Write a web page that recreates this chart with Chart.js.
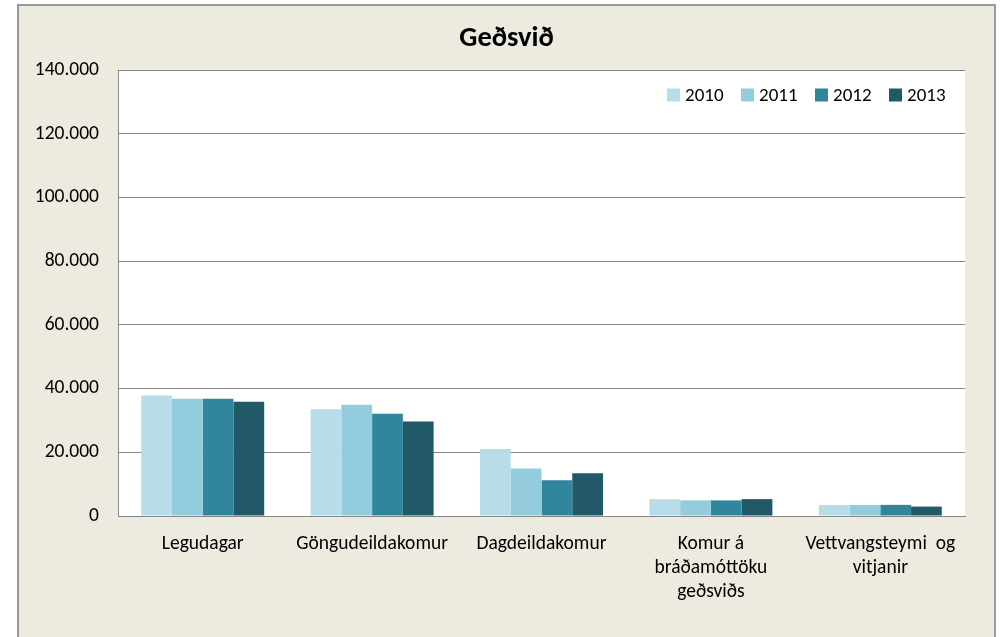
<!DOCTYPE html>
<html>
<head>
<meta charset="utf-8">
<script src="https://cdn.jsdelivr.net/npm/chart.js@4/dist/chart.umd.min.js"></script>
<style>
html,body{margin:0;padding:0;background:#ffffff;}
#wrap{position:absolute;left:0;top:0;width:1003px;height:637px;}
</style>
</head>
<body>
<div id="wrap"><canvas id="c" width="1003" height="637"></canvas></div>
<script>
const chartTitle = "Geðsvið";
const categories = ["Legudagar", "Göngudeildakomur", "Dagdeildakomur", ["Komur á", "bráðamóttöku", "geðsviðs"], ["Vettvangsteymi  og", "vitjanir"]];
const seriesNames = ["2010", "2011", "2012", "2013"];
const s2010 = [37800, 33500, 21000, 5300, 3450];
const s2011 = [36800, 34900, 14900, 4900, 3450];
const s2012 = [36800, 32100, 11200, 4900, 3500];
const s2013 = [35900, 29700, 13400, 5300, 2950];
const seriesColors = ["#B7DDE8", "#93CDDD", "#31859C", "#215968"];
const yMin = 0, yMax = 140000, yStep = 20000;

const FONT = "Carlito, Calibri, Lato, 'Open Sans', sans-serif";

function fmt(v){
  return String(Math.round(v)).replace(/\B(?=(\d{3})+(?!\d))/g, ".");
}

const framePlugin = {
  id: 'frame',
  beforeDraw(chart){
    const ctx = chart.ctx;
    ctx.save();
    ctx.fillStyle = "#EDEAE0";
    ctx.fillRect(18, 5, 977, 640);
    ctx.strokeStyle = "#9A9A9A";
    ctx.lineWidth = 2;
    ctx.strokeRect(18, 5, 977, 640);
    const a = chart.chartArea;
    ctx.fillStyle = "#FFFFFF";
    ctx.fillRect(a.left, a.top, a.right - a.left, a.bottom - a.top);
    ctx.restore();
  }
};

const titlePlugin = {
  id: 'frameTitle',
  afterDraw(chart){
    const ctx = chart.ctx;
    ctx.save();
    ctx.font = "bold 28.5px " + FONT;
    ctx.fillStyle = "#000000";
    ctx.textAlign = "center";
    ctx.textBaseline = "middle";
    ctx.fillText(chartTitle, (18 + 995) / 2, chart.chartArea.top - 31);
    ctx.restore();
  }
};

const legendPlugin = {
  id: 'insideLegend',
  afterDraw(chart){
    const ctx = chart.ctx;
    const a = chart.chartArea;
    ctx.save();
    ctx.font = "19px " + FONT;
    ctx.textBaseline = "middle";
    ctx.textAlign = "left";
    const y = a.top + 25;
    let x = a.right - 298;
    chart.data.datasets.forEach(ds => {
      ctx.fillStyle = ds.backgroundColor;
      ctx.fillRect(x, y - 6.5, 13, 13);
      ctx.fillStyle = "#000000";
      ctx.fillText(ds.label, x + 18, y + 1);
      x += 74;
    });
    ctx.restore();
  }
};

const datasets = [s2010, s2011, s2012, s2013].map((d, i) => ({
  label: seriesNames[i],
  data: d,
  backgroundColor: seriesColors[i],
  borderWidth: 0,
  categoryPercentage: 0.726,
  barPercentage: 1.0
}));

new Chart(document.getElementById('c'), {
  type: 'bar',
  data: { labels: categories, datasets: datasets },
  plugins: [framePlugin, titlePlugin, legendPlugin],
  options: {
    responsive: false,
    animation: false,
    layout: { padding: { left: 20, right: 38, top: 70, bottom: 0 } },
    plugins: {
      legend: { display: false },
      tooltip: { enabled: false },
      title: { display: false }
    },
    scales: {
      x: {
        grid: { display: false, drawTicks: false },
        border: { display: true, color: "#868686", width: 1 },
        ticks: {
          color: "#000000",
          font: { family: FONT, size: 19.5, lineHeight: 1.23 },
          padding: 16,
          maxRotation: 0,
          autoSkip: false
        },
        afterFit(scale){ scale.height = 637 - 516; }
      },
      y: {
        min: yMin, max: yMax,
        grid: { color: "#868686", lineWidth: 1, drawTicks: false },
        border: { display: true, color: "#868686", width: 1 },
        ticks: {
          stepSize: yStep,
          color: "#000000",
          font: { family: FONT, size: 19.5 },
          padding: 19,
          callback: v => fmt(v)
        },
        afterFit(scale){ scale.width = 118 - 20; }
      }
    }
  }
});
</script>
</body>
</html>
